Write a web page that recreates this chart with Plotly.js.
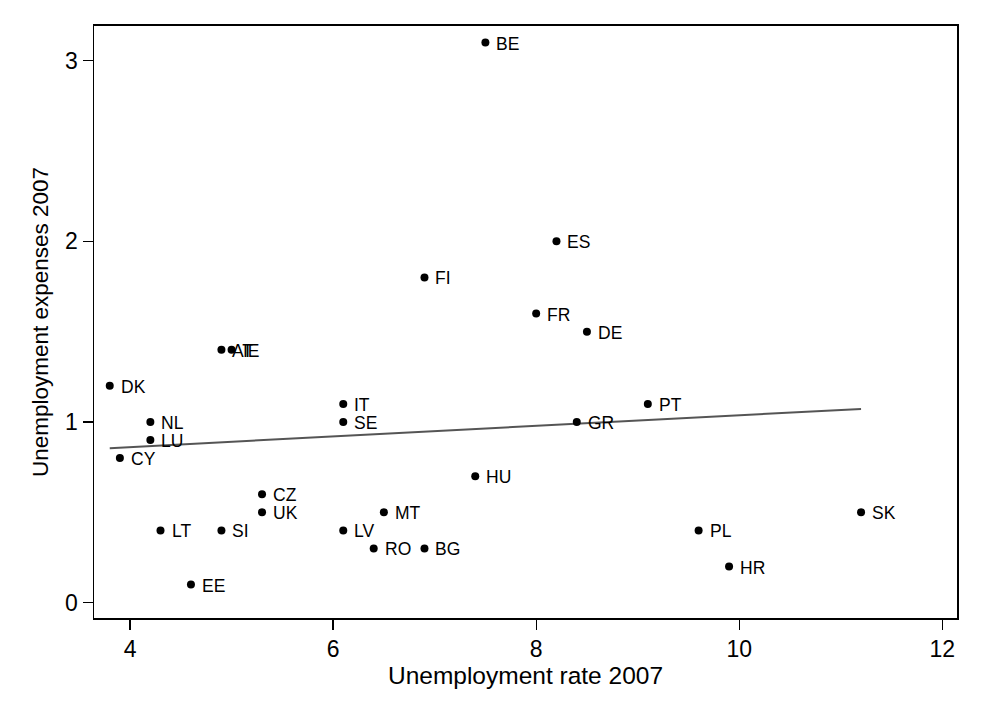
<!DOCTYPE html>
<html>
<head>
<meta charset="utf-8">
<script src="https://cdn.plot.ly/plotly-3.0.1.min.js"></script>
<style>html,body{margin:0;padding:0;background:#fff;}#chart{width:984px;height:715px;}</style>
</head>
<body>
<div id="chart"></div>
<script>
const countries = ["BE","ES","FI","FR","DE","AT","IE","DK","IT","PT","NL","SE","GR","LU","CY","HU","CZ","UK","MT","SK","LT","SI","LV","PL","RO","BG","HR","EE"];
const unemploymentRate = [7.5,8.2,6.9,8.0,8.5,4.9,5.0,3.8,6.1,9.1,4.2,6.1,8.4,4.2,3.9,7.4,5.3,5.3,6.5,11.2,4.3,4.9,6.1,9.6,6.4,6.9,9.9,4.6];
const unemploymentExpenses = [3.1,2.0,1.8,1.6,1.5,1.4,1.4,1.2,1.1,1.1,1.0,1.0,1.0,0.9,0.8,0.7,0.6,0.5,0.5,0.5,0.4,0.4,0.4,0.4,0.3,0.3,0.2,0.1];
const xTicks = [4,6,8,10,12];
const yTicks = [0,1,2,3];

// OLS linear fit over the data
const n = unemploymentRate.length;
const mx = unemploymentRate.reduce((a,b)=>a+b,0)/n;
const my = unemploymentExpenses.reduce((a,b)=>a+b,0)/n;
let sxy=0, sxx=0;
for (let i=0;i<n;i++){ sxy += (unemploymentRate[i]-mx)*(unemploymentExpenses[i]-my); sxx += (unemploymentRate[i]-mx)**2; }
const slope = sxy/sxx, intercept = my - slope*mx;
const fitX = [Math.min(...unemploymentRate), Math.max(...unemploymentRate)];
const fitY = fitX.map(x => intercept + slope*x);

const FONT = "Liberation Sans, Arial, sans-serif";

const traces = [
  {x: fitX, y: fitY, mode: "lines", type: "scatter", line: {color: "#555555", width: 2}, hoverinfo: "skip"},
  {x: unemploymentRate, y: unemploymentExpenses, mode: "markers", type: "scatter",
   marker: {color: "#000000", size: 8}, text: countries}
];

const annotations = countries.map((c,i) => ({
  x: unemploymentRate[i], y: unemploymentExpenses[i], xref: "x", yref: "y",
  text: c, showarrow: false, xanchor: "left", yanchor: "middle",
  xshift: 9, yshift: -1, font: {family: FONT, size: 17.5, color: "#000"}
}));

const layout = {
  width: 984, height: 715,
  margin: {l: 94, r: 27, t: 26, b: 97},
  paper_bgcolor: "#fff", plot_bgcolor: "#fff",
  showlegend: false,
  font: {family: FONT, color: "#000"},
  xaxis: {
    range: [3.645, 12.145], tickvals: xTicks, ticktext: xTicks.map(String),
    ticks: "outside", ticklen: 10, tickwidth: 1.3, tickcolor: "#000",
    showline: true, linecolor: "#000", linewidth: 1.6, mirror: true,
    showgrid: false, zeroline: false,
    tickfont: {family: FONT, size: 23, color: "#000"},
    title: {text: "Unemployment rate 2007", font: {family: FONT, size: 24.5, color: "#000"}, standoff: 0}
  },
  yaxis: {
    range: [-0.085, 3.192], tickvals: yTicks, ticktext: yTicks.map(String),
    ticks: "outside", ticklen: 10, tickwidth: 1.3, tickcolor: "#000",
    showline: true, linecolor: "#000", linewidth: 1.5, mirror: true,
    showgrid: false, zeroline: false,
    tickfont: {family: FONT, size: 23, color: "#000"},
    title: {text: "Unemployment expenses 2007", font: {family: FONT, size: 22.5, color: "#000"}, standoff: 10}
  },
  annotations: annotations
};

Plotly.newPlot("chart", traces, layout, {displayModeBar: false, staticPlot: true});
</script>
</body>
</html>
